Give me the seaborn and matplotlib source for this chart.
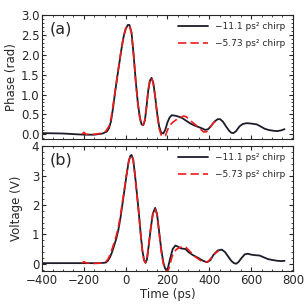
import numpy as np
import matplotlib
matplotlib.use("Agg")
import matplotlib.pyplot as plt
from matplotlib.ticker import MultipleLocator
import seaborn as sns
import pandas as pd

# labels
leg_a = "\u221211.1 ps\u00b2 chirp"
leg_b = "\u22125.73 ps\u00b2 chirp"

# (a) phase, -11.1 ps^2 chirp
ph_a_t = [-400, -300, -200, -150, -110, -90, -80, -70, -60, -50, -40, -30, -20, -10, 0, 10, 18, 28, 38, 48,
          58, 68, 76, 84, 92, 100, 108, 116, 124, 132, 140, 150, 160, 170, 180, 190, 200, 210, 220, 235,
          250, 270, 290, 310, 330, 350, 365, 381, 395, 410, 425, 440, 452, 465, 480, 495, 505, 516, 528, 545,
          560, 580, 600, 627, 645, 665, 683, 705, 725, 745, 760]
ph_a_v = [0.03, 0.02, -0.01, -0.01, 0.02, 0.07, 0.15, 0.33, 0.68, 1.08, 1.45, 1.8, 2.15, 2.45, 2.65, 2.75, 2.75, 2.56, 2.0, 1.35,
          0.8, 0.42, 0.25, 0.23, 0.35, 0.7, 1.1, 1.35, 1.42, 1.3, 1.0, 0.55, 0.2, 0.04, 0.02, 0.12, 0.3, 0.42, 0.48, 0.47,
          0.45, 0.41, 0.34, 0.27, 0.22, 0.18, 0.15, 0.11, 0.13, 0.22, 0.32, 0.38, 0.38, 0.32, 0.2, 0.09, 0.04, 0.03, 0.08, 0.2,
          0.26, 0.28, 0.27, 0.25, 0.2, 0.14, 0.11, 0.09, 0.08, 0.1, 0.13]

# (a) phase, -5.73 ps^2 chirp
ph_b_t = [-210, -200, -190, -150, -110, -95, -80, -70, -60, -50, -40, -30, -20, -10, 0, 10, 18, 28, 38, 48,
          58, 68, 76, 84, 92, 100, 108, 116, 124, 132, 140, 150, 160, 170, 180, 190, 198, 210, 225, 240,
          260, 278, 290, 305, 320, 341, 360, 373, 385, 395, 408, 420, 435, 442]
ph_b_v = [0.0, 0.05, 0.0, 0.0, 0.03, 0.08, 0.2, 0.4, 0.74, 1.1, 1.47, 1.82, 2.17, 2.47, 2.66, 2.74, 2.73, 2.55, 2.0, 1.33,
          0.78, 0.4, 0.24, 0.23, 0.36, 0.72, 1.12, 1.37, 1.42, 1.28, 0.98, 0.52, 0.15, -0.02, -0.06, -0.04, 0.08, 0.22, 0.3, 0.36,
          0.42, 0.46, 0.44, 0.36, 0.3, 0.21, 0.12, 0.06, 0.06, 0.1, 0.2, 0.29, 0.34, 0.36]

# (b) voltage, -11.1 ps^2 chirp
vo_a_t = [-400, -300, -200, -120, -95, -85, -75, -65, -55, -45, -35, -25, -15, -5, 5, 15, 22, 28, 36, 45,
          55, 63, 72, 80, 88, 95, 102, 110, 120, 130, 141, 150, 160, 170, 180, 188, 195, 202, 212, 225,
          238, 250, 265, 286, 300, 320, 349, 370, 389, 405, 420, 440, 460, 475, 490, 505, 518, 529, 540, 555,
          570, 585, 600, 620, 640, 660, 680, 700, 725, 745, 760]
vo_a_v = [0.02, 0.02, 0.02, 0.02, 0.04, 0.1, 0.22, 0.4, 0.62, 0.85, 1.15, 1.55, 2.05, 2.55, 3.05, 3.5, 3.66, 3.7, 3.55, 3.0,
          2.3, 1.73, 1.0, 0.45, 0.12, 0.03, 0.15, 0.6, 1.2, 1.7, 1.9, 1.7, 1.1, 0.5, 0.05, -0.15, -0.22, -0.15, 0.15, 0.5,
          0.62, 0.58, 0.52, 0.5, 0.4, 0.3, 0.19, 0.1, 0.05, 0.12, 0.3, 0.45, 0.48, 0.4, 0.25, 0.1, 0.02, 0.0, 0.06, 0.2,
          0.32, 0.34, 0.31, 0.29, 0.28, 0.22, 0.16, 0.13, 0.1, 0.09, 0.1]

# (b) voltage, -5.73 ps^2 chirp
vo_b_t = [-210, -200, -190, -150, -100, -85, -75, -65, -55, -45, -35, -25, -15, -5, 5, 15, 22, 28, 36, 45,
          55, 63, 72, 80, 88, 95, 102, 110, 120, 130, 141, 150, 160, 170, 180, 190, 200, 210, 220, 230,
          245, 260, 278, 290, 310, 330, 350, 365, 381, 395, 410, 425, 437, 445]
vo_b_v = [0.02, 0.07, 0.03, 0.01, 0.03, 0.15, 0.3, 0.5, 0.72, 0.95, 1.25, 1.65, 2.12, 2.6, 3.08, 3.5, 3.65, 3.69, 3.53, 2.98,
          2.28, 1.7, 0.98, 0.43, 0.11, 0.04, 0.17, 0.62, 1.22, 1.7, 1.88, 1.66, 1.05, 0.42, 0.0, -0.2, -0.28, -0.1, 0.2, 0.39,
          0.5, 0.55, 0.59, 0.55, 0.4, 0.25, 0.15, 0.08, 0.05, 0.08, 0.2, 0.33, 0.4, 0.45]

sns.set_style("ticks")
plt.rcParams['font.family'] = ['DejaVu Sans']

fig = plt.figure(figsize=(3.07, 3.07), dpi=100)
ax1 = fig.add_axes([0.137, 0.547, 0.817, 0.404])
ax2 = fig.add_axes([0.137, 0.117, 0.817, 0.407])

black = "#1c1c2a"
red = "#ee1c1c"

sns.lineplot(x=ph_a_t, y=ph_a_v, ax=ax1, color=black, lw=1.3, label=leg_a, sort=False)
sns.lineplot(x=ph_b_t, y=ph_b_v, ax=ax1, color=red, lw=1.2, label=leg_b, sort=False)
ax1.lines[1].set_dashes((5, 2.5))
sns.lineplot(x=vo_a_t, y=vo_a_v, ax=ax2, color=black, lw=1.3, label=leg_a, sort=False)
sns.lineplot(x=vo_b_t, y=vo_b_v, ax=ax2, color=red, lw=1.2, label=leg_b, sort=False)
ax2.lines[1].set_dashes((5, 2.5))

for ax in (ax1, ax2):
    ax.set_xlim(-400, 800)
    ax.xaxis.set_major_locator(MultipleLocator(200))
    ax.xaxis.set_minor_locator(MultipleLocator(50))
    ax.tick_params(which="both", direction="in", top=True, right=True, labelsize=8.5, pad=2)
    ax.tick_params(which="major", length=3, width=0.8)
    ax.tick_params(which="minor", length=1.5, width=0.6)
    for s in ax.spines.values():
        s.set_linewidth(0.8)
    ax.legend(loc="upper right", frameon=False, fontsize=6.5, handlelength=3.3,
              handletextpad=0.8, labelspacing=0.9, borderaxespad=0.4)

ax1.set_ylim(-0.12, 3.0)
ax1.yaxis.set_major_locator(MultipleLocator(0.5))
ax1.yaxis.set_minor_locator(MultipleLocator(0.1))
ax1.set_xticklabels([])
ax1.set_ylabel("Phase (rad)", fontsize=8.5, labelpad=2)
ax1.set_xlabel("")
ax1.text(0.03, 0.95, "(a)", transform=ax1.transAxes, fontsize=11.5, va="top", ha="left")

ax2.set_ylim(-0.25, 4)
ax2.yaxis.set_major_locator(MultipleLocator(1))
ax2.yaxis.set_minor_locator(MultipleLocator(0.2))
ax2.set_ylabel("Voltage (V)", fontsize=8.5, labelpad=6)
ax2.set_xlabel("Time (ps)", fontsize=8.5, labelpad=1)
ax2.text(0.03, 0.95, "(b)", transform=ax2.transAxes, fontsize=11.5, va="top", ha="left")

fig.savefig("out.png", dpi=100)
